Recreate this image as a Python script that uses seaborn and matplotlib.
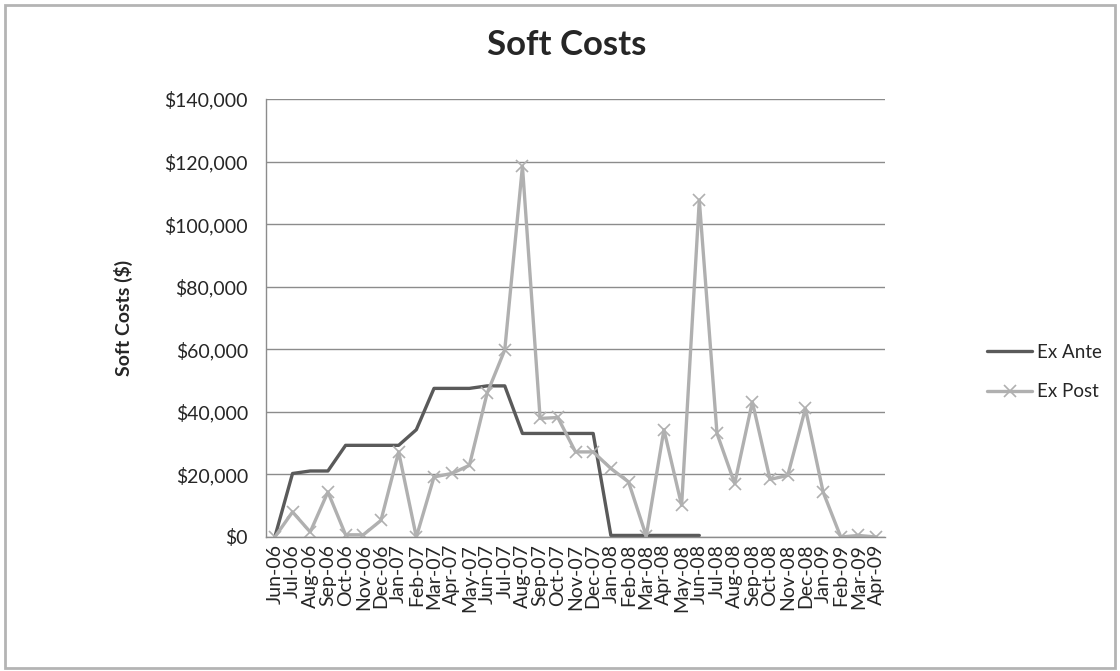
import matplotlib
matplotlib.use("Agg")
import matplotlib.pyplot as plt
from matplotlib.ticker import FuncFormatter, MultipleLocator
from matplotlib.patches import Rectangle
import pandas as pd
import seaborn as sns

# Monthly periods
months = ["Jun-06", "Jul-06", "Aug-06", "Sep-06", "Oct-06", "Nov-06", "Dec-06",
          "Jan-07", "Feb-07", "Mar-07", "Apr-07", "May-07", "Jun-07", "Jul-07",
          "Aug-07", "Sep-07", "Oct-07", "Nov-07", "Dec-07", "Jan-08", "Feb-08",
          "Mar-08", "Apr-08", "May-08", "Jun-08", "Jul-08", "Aug-08", "Sep-08",
          "Oct-08", "Nov-08", "Dec-08", "Jan-09", "Feb-09", "Mar-09", "Apr-09"]

# Ex Ante estimates (through Jun-08)
ex_ante = [0, 20300, 21100, 21100, 29300, 29300, 29300, 29300, 34300, 47500,
           47500, 47500, 48300, 48300, 33100, 33100, 33100, 33100, 33100, 500,
           500, 500, 500, 500, 500]

# Ex Post actuals
ex_post = [0, 8000, 1600, 14400, 700, 700, 5300, 27200, 0, 19200,
           20300, 22900, 45900, 59800, 118500, 37900, 38200, 27200, 27200, 21900,
           17600, 300, 34300, 10100, 107700, 33100, 17100, 43200, 18400, 19700,
           41100, 14400, 0, 500, 0]

df_ante = pd.DataFrame({"idx": range(len(ex_ante)), "cost": ex_ante})
df_post = pd.DataFrame({"idx": range(len(ex_post)), "cost": ex_post})

sns.set_style("white")
plt.rcParams["font.family"] = ["Lato", "DejaVu Sans"]

fig = plt.figure(figsize=(11.2, 6.71), dpi=100)
fig.patches.append(Rectangle((5 / 1120, 3 / 671), 1110 / 1120, 663 / 671,
                             transform=fig.transFigure, fill=False,
                             edgecolor="#b4b4b4", linewidth=2))

ax = fig.add_axes([266 / 1120, 1 - 537 / 671, 619 / 1120, 438 / 671])

sns.lineplot(data=df_ante, x="idx", y="cost", ax=ax, color="#5a5a5a",
             linewidth=2.4, label="Ex Ante", sort=False)
sns.lineplot(data=df_post, x="idx", y="cost", ax=ax, color="#b0b0b0",
             linewidth=2.4, marker="x", markersize=8, markeredgewidth=1.2,
             markeredgecolor="#b0b0b0", label="Ex Post", sort=False)

ax.set_xlim(-0.5, len(months) - 0.5)
ax.set_ylim(0, 140000)
ax.yaxis.set_major_locator(MultipleLocator(20000))
ax.yaxis.set_major_formatter(FuncFormatter(lambda v, p: f"${v:,.0f}"))
ax.set_xticks(range(len(months)))
ax.set_xticklabels(months, rotation=90, fontsize=14)
ax.tick_params(axis="y", labelsize=14, pad=13, length=0)
ax.tick_params(axis="x", pad=5, length=0)

ax.grid(axis="y", color="#8c8c8c", linewidth=1)
ax.set_axisbelow(True)
for side in ["top", "right"]:
    ax.spines[side].set_visible(False)
for side in ["left", "bottom"]:
    ax.spines[side].set_color("#8c8c8c")
    ax.spines[side].set_linewidth(1)

ax.set_xlabel("")
ax.set_ylabel("Soft Costs ($)", fontsize=14, fontweight="bold")
ax.yaxis.set_label_coords((133 - 266) / 619, 0.5)

fig.text(567 / 1120, 1 - 45 / 671, "Soft Costs", ha="center", va="center",
         fontsize=25, fontweight="bold")

ax.legend(loc="center left", bbox_to_anchor=(987 / 1120, 1 - 372 / 671),
          bbox_transform=fig.transFigure, frameon=False, fontsize=13.5,
          borderaxespad=0, borderpad=0,
          handlelength=2.4, handletextpad=0.25, labelspacing=1.2)

fig.savefig("out.png", dpi=100)
